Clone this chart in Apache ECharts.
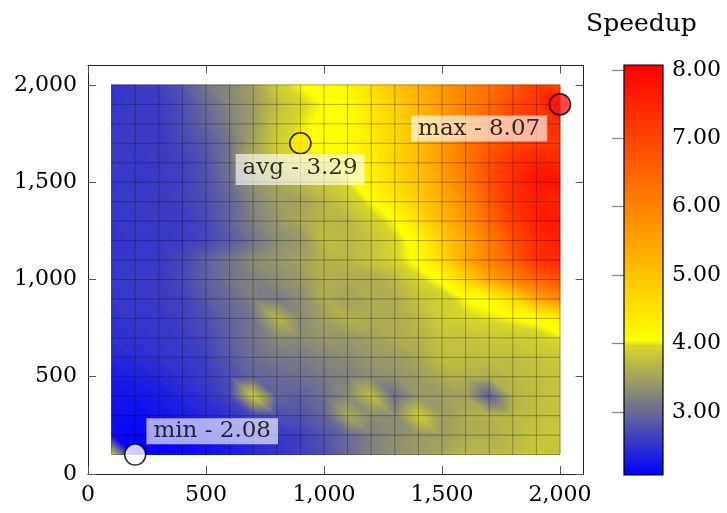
<!DOCTYPE html>
<html><head><meta charset="utf-8">
<script src="https://cdn.jsdelivr.net/npm/echarts@6/dist/echarts.min.js"></script>
<style>html,body{margin:0;padding:0;background:#fff}#c{width:727px;height:513px}</style>
</head><body><div id="c"></div>
<script>
// ---------------- data ----------------
const xValues = [100,200,300,400,500,600,700,800,900,1000,1100,1200,1300,1400,1500,1600,1700,1800,1900,2000];
const yValues = [100,200,300,400,500,600,700,800,900,1000,1100,1200,1300,1400,1500,1600,1700,1800,1900,2000];
// speedup[j][i] : value at x = xValues[i], y = yValues[j]
const speedup = [
 [3.90,2.08,2.12,2.15,2.20,2.30,2.40,2.50,2.60,2.75,3.00,3.20,3.35,3.45,3.55,3.70,3.70,3.75,3.85,3.80],
 [2.20,2.12,2.15,2.20,2.25,2.35,2.45,2.55,2.65,2.80,3.00,3.20,3.30,3.40,3.45,3.60,3.60,3.70,3.80,3.85],
 [2.20,2.20,2.25,2.30,2.40,2.50,2.70,2.75,2.80,2.95,3.55,3.30,3.30,3.90,3.45,3.60,3.65,3.70,3.75,3.80],
 [2.25,2.25,2.30,2.40,2.50,2.70,3.90,2.95,2.90,3.05,3.30,3.75,3.05,3.40,3.45,3.50,2.90,3.65,3.75,3.80],
 [2.30,2.35,2.40,2.50,2.60,2.75,2.95,3.00,3.05,3.15,3.20,3.30,3.35,3.45,3.60,3.65,3.60,3.70,3.75,3.80],
 [2.40,2.45,2.50,2.55,2.65,2.85,3.05,3.15,3.15,3.25,3.30,3.40,3.45,3.55,3.75,3.75,3.75,3.75,3.80,3.85],
 [2.50,2.50,2.55,2.60,2.70,2.90,3.10,3.30,3.30,3.40,3.40,3.50,3.60,3.65,3.80,3.80,3.85,3.85,3.90,4.00],
 [2.50,2.55,2.55,2.65,2.75,2.95,3.10,3.70,3.30,3.50,3.65,3.60,3.60,3.70,3.90,3.95,4.00,4.05,4.10,4.30],
 [2.55,2.55,2.60,2.65,2.85,3.00,3.20,3.15,3.30,3.60,3.50,3.60,3.60,3.80,3.90,4.05,4.10,4.60,5.40,5.90],
 [2.55,2.60,2.60,2.70,2.90,3.10,3.20,3.30,3.40,3.65,3.60,3.60,3.70,3.95,4.10,4.70,5.40,6.00,6.50,6.80],
 [2.55,2.55,2.60,2.70,2.90,3.10,3.30,3.40,3.50,3.65,3.70,3.80,3.95,4.10,4.70,5.40,6.00,6.60,7.30,7.50],
 [2.50,2.55,2.55,2.60,2.70,2.85,3.10,3.30,3.40,3.75,3.70,3.80,3.95,4.15,4.80,5.40,6.10,6.80,7.40,7.60],
 [2.55,2.55,2.60,2.60,2.70,2.95,3.20,3.40,3.55,3.70,3.70,3.90,4.05,4.50,5.10,5.70,6.40,7.10,7.60,7.70],
 [2.55,2.60,2.60,2.65,2.75,2.95,3.25,3.45,3.50,3.70,3.85,4.05,4.40,4.80,5.30,5.90,6.60,7.30,7.60,7.50],
 [2.55,2.55,2.60,2.65,2.80,3.05,3.35,3.55,3.70,3.85,4.00,4.25,4.60,5.00,5.50,6.10,6.80,7.40,7.80,7.80],
 [2.60,2.55,2.60,2.65,2.80,3.10,3.65,3.85,3.95,4.00,4.05,4.30,4.70,5.10,5.60,6.20,6.80,7.30,7.60,7.50],
 [2.60,2.60,2.60,2.70,2.85,3.10,3.50,3.90,4.05,4.10,4.10,4.35,4.70,5.10,5.60,6.20,6.60,7.00,7.20,7.20],
 [2.55,2.60,2.60,2.75,2.95,3.20,3.45,3.85,4.00,4.10,4.10,4.40,4.70,5.10,5.60,6.10,6.60,7.00,7.30,7.40],
 [2.55,2.60,2.60,2.75,3.00,3.25,3.45,3.75,3.95,4.05,4.10,4.45,4.80,5.20,5.60,6.00,6.40,6.90,7.20,8.07],
 [2.50,2.60,2.64,2.83,3.13,3.27,3.48,3.90,4.05,4.10,4.15,4.55,5.00,5.30,5.70,6.00,6.30,6.70,7.10,6.70]
];
const xTicks = [0,500,1000,1500,2000];
const yTicks = [0,500,1000,1500,2000];
const colorbarTicks = [3,4,5,6,7,8];
const colorbarMin = 2.08;
const colorbarMax = 8.07;
const markerNames = ['min','avg','max'];
const markerX = [200,900,2000];
const markerY = [100,1700,1900];
const markerValues = [2.08,3.29,8.07];

// ---------------- style ----------------
const FONT = '"DejaVu Serif", serif';
const CMAP = [[2.08,[0,0,255]],[3.2,[128,128,128]],[3.97,[215,215,40]],[4.05,[255,255,0]],[8.07,[255,0,0]]];
const markerFill = ['#ffffff','#ffe600','#ff1a1a'];
const markerLabelPos = [
  {position:[22.5,1], align:'left', verticalAlign:'bottom', padding:[1,7,1,7]},
  {position:[11,22], align:'center', verticalAlign:'top', padding:[2,7,5,7]},
  {position:[-1.5,22.5], align:'right', verticalAlign:'top', padding:[1,7,1,7]}
];

function cmap(v){
  if (v <= CMAP[0][0]) return rgb(CMAP[0][1]);
  for (let k=1;k<CMAP.length;k++){
    if (v <= CMAP[k][0]){
      const a=CMAP[k-1], b=CMAP[k];
      const t=(v-a[0])/(b[0]-a[0]);
      return rgb([0,1,2].map(c=>a[1][c]+(b[1][c]-a[1][c])*t));
    }
  }
  return rgb(CMAP[CMAP.length-1][1]);
}
function rgb(c){return 'rgb('+Math.round(c[0])+','+Math.round(c[1])+','+Math.round(c[2])+')';}
function stopsBetween(vmin,vmax){
  const vals=[vmin];
  CMAP.forEach(s=>{ if(s[0]>vmin && s[0]<vmax) vals.push(s[0]); });
  vals.push(vmax);
  return vals.map(v=>({offset:(v-vmin)/(vmax-vmin), color:cmap(v)}));
}
function tri(a,b,c,va,vb,vc){
  const vmin=Math.min(va,vb,vc), vmax=Math.max(va,vb,vc);
  let fill;
  if (vmax-vmin < 1e-6) fill = cmap(va);
  else {
    const e1x=b[0]-a[0], e1y=b[1]-a[1], e2x=c[0]-a[0], e2y=c[1]-a[1];
    const d1=vb-va, d2=vc-va;
    const det=e1x*e2y-e1y*e2x;
    const gx=(d1*e2y-e1y*d2)/det, gy=(e1x*d2-e2x*d1)/det;
    const g2=gx*gx+gy*gy;
    fill = {type:'linear', global:true,
      x:a[0]+gx*(vmin-va)/g2, y:a[1]+gy*(vmin-va)/g2,
      x2:a[0]+gx*(vmax-va)/g2, y2:a[1]+gy*(vmax-va)/g2,
      colorStops: stopsBetween(vmin,vmax)};
  }
  return {type:'polygon', shape:{points:[a,b,c]}, style:{fill:fill, stroke:fill, lineWidth:0.8}};
}
function fmt(v){return String(v).replace(/\B(?=(\d{3})+(?!\d))/g, ',');}

// ---------------- build ----------------
const surfaceCells = [];
for (let j=0;j<yValues.length-1;j++)
  for (let i=0;i<xValues.length-1;i++)
    surfaceCells.push([xValues[i],yValues[j],xValues[i+1],yValues[j+1],
      speedup[j][i],speedup[j][i+1],speedup[j+1][i],speedup[j+1][i+1]]);
const gridLines = [];
xValues.forEach(x=>gridLines.push([x,yValues[0],x,yValues[yValues.length-1]]));
yValues.forEach(y=>gridLines.push([xValues[0],y,xValues[xValues.length-1],y]));

const markerData = markerNames.map((n,k)=>({
  value:[markerX[k],markerY[k]], name:n,
  itemStyle:{color:markerFill[k], borderColor:'#000', borderWidth:1.6},
  label:Object.assign({show:true, formatter:n+' - '+markerValues[k].toFixed(2)}, markerLabelPos[k])
}));

const axisCommon = {
  type:'value', min:0, max:2100,
  axisLine:{show:true, onZero:false, lineStyle:{color:'#222', width:1}},
  axisTick:{show:true, inside:true, length:8, lineStyle:{color:'#555', width:1}},
  splitLine:{show:false}
};

const chart = echarts.init(document.getElementById('c'), null, {renderer:'canvas'});
chart.setOption({
  animation:false,
  backgroundColor:'#fff',
  grid:[
    {left:88, top:65.5, width:495.6, height:408.5},
    {left:624, top:65, width:39, height:410}
  ],
  xAxis:[
    Object.assign({}, axisCommon, {gridIndex:0, position:'bottom',
      axisTick:Object.assign({}, axisCommon.axisTick, {customValues:xTicks}),
      axisLabel:{customValues:xTicks, formatter:fmt, fontFamily:FONT, fontSize:22, color:'#000', margin:10}}),
    Object.assign({}, axisCommon, {gridIndex:0, position:'top',
      axisTick:Object.assign({}, axisCommon.axisTick, {customValues:xTicks}),
      axisLabel:{show:false}}),
    {gridIndex:1, type:'value', min:0, max:1, show:false}
  ],
  yAxis:[
    Object.assign({}, axisCommon, {gridIndex:0, position:'left',
      axisTick:Object.assign({}, axisCommon.axisTick, {customValues:yTicks}),
      axisLabel:{customValues:yTicks, formatter:fmt, fontFamily:FONT, fontSize:22, color:'#000', margin:11}}),
    Object.assign({}, axisCommon, {gridIndex:0, position:'right',
      axisTick:Object.assign({}, axisCommon.axisTick, {customValues:yTicks}),
      axisLabel:{show:false}}),
    {gridIndex:1, type:'value', min:colorbarMin, max:colorbarMax, position:'right',
      axisLine:{show:false},
      axisTick:{show:true, inside:true, length:12, customValues:colorbarTicks, lineStyle:{color:'#8a8a8a', width:1.3}},
      axisLabel:{customValues:colorbarTicks, formatter:v=>v.toFixed(2), fontFamily:FONT, fontSize:22, color:'#000', margin:9},
      splitLine:{show:false}},
    {gridIndex:1, type:'value', min:colorbarMin, max:colorbarMax, position:'left',
      axisLine:{show:false},
      axisTick:{show:true, inside:true, length:12, customValues:colorbarTicks, lineStyle:{color:'#8a8a8a', width:1.3}},
      axisLabel:{show:false}, splitLine:{show:false}}
  ],
  graphic:[
    {type:'text', left:586, top:12, style:{text:'Speedup', font:'25px "DejaVu Serif"', fill:'#000'}}
  ],
  series:[
    {type:'custom', coordinateSystem:'cartesian2d', xAxisIndex:0, yAxisIndex:0, silent:true, z:1,
      data:surfaceCells, encode:{x:[0,2], y:[1,3]},
      renderItem:function(params, api){
        const x0=api.value(0), y0=api.value(1), x1=api.value(2), y1=api.value(3);
        const p00=api.coord([x0,y0]), p10=api.coord([x1,y0]), p01=api.coord([x0,y1]), p11=api.coord([x1,y1]);
        const v00=api.value(4), v10=api.value(5), v01=api.value(6), v11=api.value(7);
        return {type:'group', children:[tri(p00,p10,p01,v00,v10,v01), tri(p10,p11,p01,v10,v11,v01)]};
      }},
    {type:'custom', coordinateSystem:'cartesian2d', xAxisIndex:0, yAxisIndex:0, silent:true, z:2,
      data:gridLines, encode:{x:[0,2], y:[1,3]},
      renderItem:function(params, api){
        const a=api.coord([api.value(0),api.value(1)]), b=api.coord([api.value(2),api.value(3)]);
        return {type:'line', shape:{x1:a[0],y1:a[1],x2:b[0],y2:b[1]}, style:{stroke:'rgba(0,0,0,0.3)', lineWidth:1}};
      }},
    {type:'custom', coordinateSystem:'cartesian2d', xAxisIndex:2, yAxisIndex:2, silent:true, z:1,
      data:[[0,colorbarMin,1,colorbarMax]], encode:{x:[0,2], y:[1,3]},
      renderItem:function(params, api){
        const a=api.coord([api.value(0),api.value(1)]), b=api.coord([api.value(2),api.value(3)]);
        const stops=stopsBetween(colorbarMin,colorbarMax);
        return {type:'rect', shape:{x:a[0], y:b[1], width:b[0]-a[0], height:a[1]-b[1]},
          style:{fill:{type:'linear', global:true, x:0, y:a[1], x2:0, y2:b[1], colorStops:stops}, stroke:'#000', lineWidth:1.2}, z2:0};
      }},
    {type:'scatter', xAxisIndex:0, yAxisIndex:0, z:5, symbol:'circle', symbolSize:21, silent:true,
      data:markerData,
      label:{fontFamily:FONT, fontSize:23, color:'#000', lineHeight:24, backgroundColor:'rgba(255,255,255,0.8)'}}
  ]
});
</script></body></html>
